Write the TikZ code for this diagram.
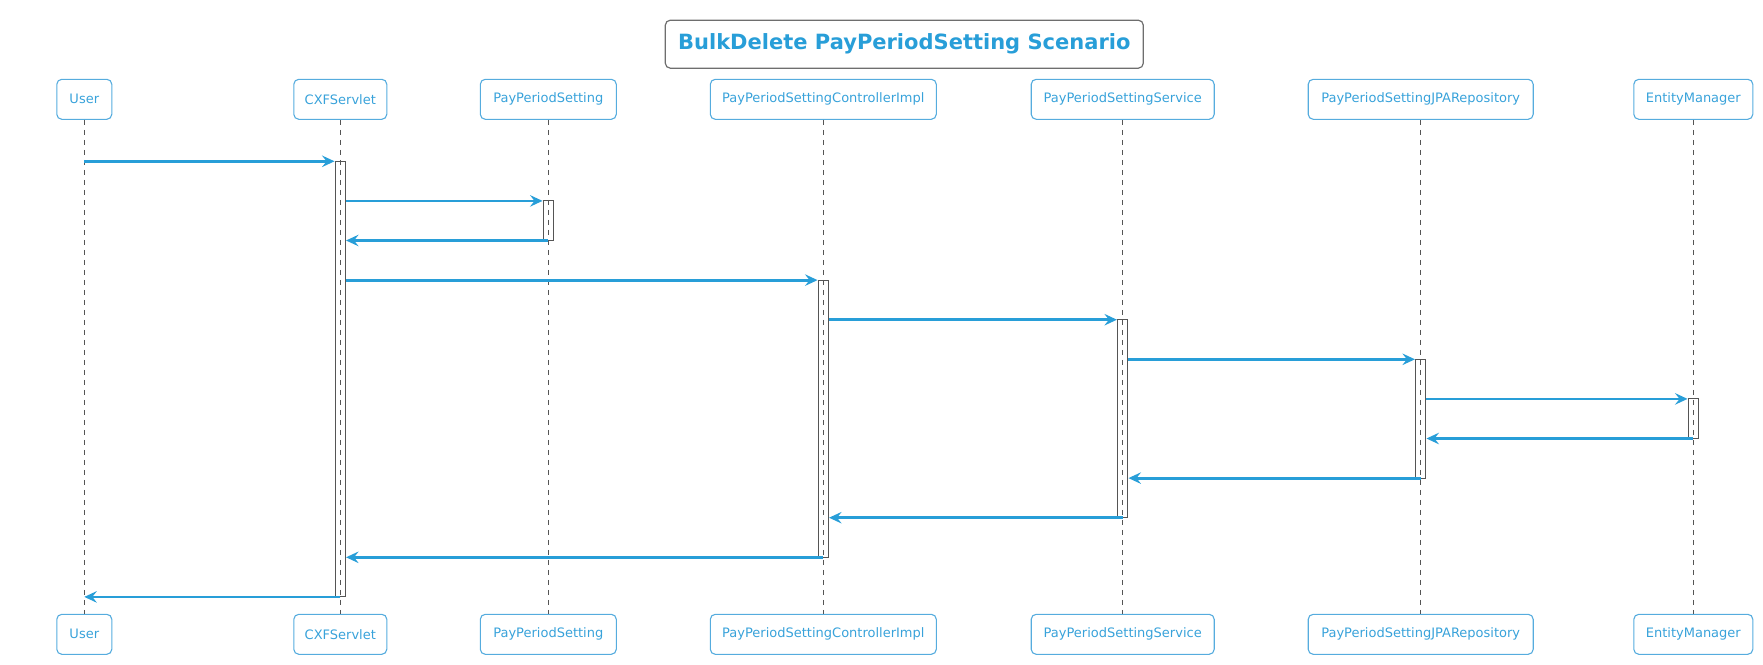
\documentclass[tikz,border=0pt]{standalone}
\usepackage{fontspec}
\setmainfont{DejaVu Sans}
\usepackage{tikz}
\usetikzlibrary{arrows.meta,fit}
\definecolor{umlblue}{RGB}{40,158,216}
\definecolor{boxblue}{RGB}{86,172,222}
\definecolor{textblue}{RGB}{56,162,218}
\definecolor{linegray}{RGB}{85,85,85}
\definecolor{framegray}{RGB}{110,110,110}
\tikzset
{
    participant/.style = {rectangle, rounded corners=5pt, draw=boxblue, line width=1.1pt, text=textblue, align=center, minimum height=40pt, inner sep=0pt, font=\fontsize{13}{15}\selectfont},
    titlebox/.style = {rectangle, rounded corners=5pt, draw=framegray, line width=1.2pt, text=umlblue, minimum width=478pt, minimum height=48pt, font=\fontsize{21}{25}\selectfont\bfseries},
    activation/.style = {rectangle, draw=linegray, line width=1pt, inner sep=0pt, minimum width=10.5pt},
    lifeline/.style = {draw=linegray, line width=1pt, dash pattern=on 5pt off 5pt},
    msg/.style = {draw=umlblue, line width=2.8pt, -{Stealth[length=12.5pt, width=11.5pt, inset=4.5pt]}},
}

\begin{document}
\begin{tikzpicture}[x=1pt, y=-1pt]
\useasboundingbox (0,0) rectangle (1763,664);
\newcommand\lifeLength{535}
\newcommand\msgStep{39.6}
\node(title) [titlebox] at (904.3, 44.2) {BulkDelete PayPeriodSetting Scenario};
% participants, top row
\node(userT) [participant, minimum width=55pt] at (84.3, 99.3) {User};
\node(cxfT) [participant, minimum width=93pt] at (340.3, 99.3) {CXFServlet};
\node(ppsT) [participant, minimum width=136pt] at (548.3, 99.3) {PayPeriodSetting};
\node(ctrlT) [participant, minimum width=226pt] at (823.3, 99.3) {PayPeriodSettingControllerImpl};
\node(svcT) [participant, minimum width=183pt] at (1122.7, 99.3) {PayPeriodSettingService};
\node(repoT) [participant, minimum width=225pt] at (1420.7, 99.3) {PayPeriodSettingJPARepository};
\node(emT) [participant, minimum width=119pt] at (1693.3, 99.3) {EntityManager};
% participants, bottom row
\node(userB) [participant, minimum width=55pt] at ([shift={(0,\lifeLength)}]userT) {User};
\node(cxfB) [participant, minimum width=93pt] at ([shift={(0,\lifeLength)}]cxfT) {CXFServlet};
\node(ppsB) [participant, minimum width=136pt] at ([shift={(0,\lifeLength)}]ppsT) {PayPeriodSetting};
\node(ctrlB) [participant, minimum width=226pt] at ([shift={(0,\lifeLength)}]ctrlT) {PayPeriodSettingControllerImpl};
\node(svcB) [participant, minimum width=183pt] at ([shift={(0,\lifeLength)}]svcT) {PayPeriodSettingService};
\node(repoB) [participant, minimum width=225pt] at ([shift={(0,\lifeLength)}]repoT) {PayPeriodSettingJPARepository};
\node(emB) [participant, minimum width=119pt] at ([shift={(0,\lifeLength)}]emT) {EntityManager};
\draw[lifeline] (userT.south) -- (userB.north);
\draw[lifeline] (cxfT.south) -- (cxfB.north);
\draw[lifeline] (ppsT.south) -- (ppsB.north);
\draw[lifeline] (ctrlT.south) -- (ctrlB.north);
\draw[lifeline] (svcT.south) -- (svcB.north);
\draw[lifeline] (repoT.south) -- (repoB.north);
\draw[lifeline] (emT.south) -- (emB.north);
% message rows
\coordinate (m1) at (0, 161.3);
\coordinate (m2) at ([shift={(0,\msgStep)}]m1);
\coordinate (m3) at ([shift={(0,\msgStep)}]m2);
\coordinate (m4) at ([shift={(0,\msgStep)}]m3);
\coordinate (m5) at ([shift={(0,\msgStep)}]m4);
\coordinate (m6) at ([shift={(0,\msgStep)}]m5);
\coordinate (m7) at ([shift={(0,\msgStep)}]m6);
\coordinate (m8) at ([shift={(0,\msgStep)}]m7);
\coordinate (m9) at ([shift={(0,\msgStep)}]m8);
\coordinate (m10) at ([shift={(0,\msgStep)}]m9);
\coordinate (m11) at ([shift={(0,\msgStep)}]m10);
\coordinate (m12) at ([shift={(0,\msgStep)}]m11);
% activations
\node(cxfA) [activation, fit={(cxfT.south |- m1) (cxfT.south |- m12)}] {};
\node(ppsA) [activation, fit={(ppsT.south |- m2) (ppsT.south |- m3)}] {};
\node(ctrlA) [activation, fit={(ctrlT.south |- m4) (ctrlT.south |- m11)}] {};
\node(svcA) [activation, fit={(svcT.south |- m5) (svcT.south |- m10)}] {};
\node(repoA) [activation, fit={(repoT.south |- m6) (repoT.south |- m9)}] {};
\node(emA) [activation, fit={(emT.south |- m7) (emT.south |- m8)}] {};
\draw[msg] (userT.south |- m1) -- (cxfA.west |- m1);
\draw[msg] (cxfA.east |- m2) -- (ppsA.west |- m2);
\draw[msg] (ppsT.south |- m3) -- (cxfA.east |- m3);
\draw[msg] (cxfA.east |- m4) -- (ctrlA.west |- m4);
\draw[msg] (ctrlA.east |- m5) -- (svcA.west |- m5);
\draw[msg] (svcA.east |- m6) -- (repoA.west |- m6);
\draw[msg] (repoA.east |- m7) -- (emA.west |- m7);
\draw[msg] (emT.south |- m8) -- (repoA.east |- m8);
\draw[msg] (repoT.south |- m9) -- (svcA.east |- m9);
\draw[msg] (svcT.south |- m10) -- (ctrlA.east |- m10);
\draw[msg] (ctrlT.south |- m11) -- (cxfA.east |- m11);
\draw[msg] (cxfT.south |- m12) -- (userT.south |- m12);
\end{tikzpicture}
\end{document}
